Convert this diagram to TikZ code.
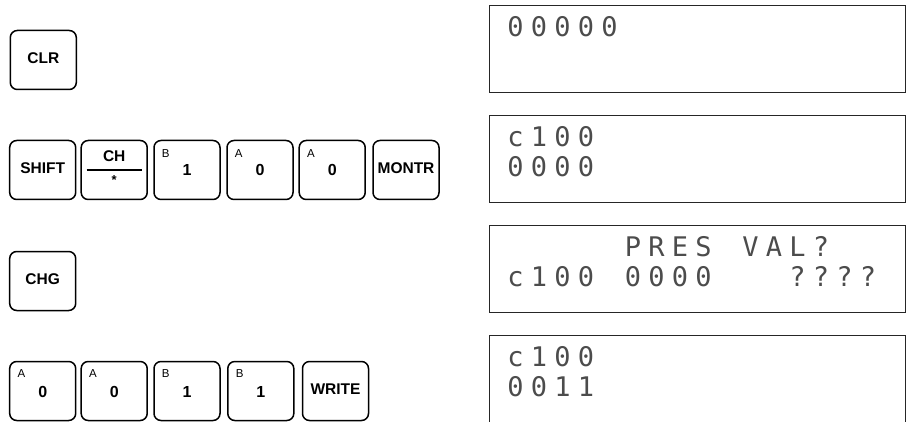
\documentclass[tikz,border=0pt]{standalone}
\usepackage{fontspec}
\setmainfont{Liberation Sans}
\newfontfamily\lcdfont{DejaVu Sans Mono}
\newlength\lcdpitch
\setlength\lcdpitch{23.5pt}
\ExplSyntaxOn
\NewDocumentCommand\lcdline{m}{
  \str_map_inline:nn {#1}
    { \str_if_eq:nnTF {##1} {_} { \hspace*{\lcdpitch} } { \makebox[\lcdpitch][c]{##1} } }
}
\ExplSyntaxOff
\tikzset{
  keybox/.style={draw, line width=1.5pt, rounded corners=7pt, minimum width=66pt, minimum height=59pt, inner sep=0pt},
  keytxt/.style={font=\bfseries\fontsize{15.5}{15.5}\selectfont, anchor=base, inner sep=0pt},
  keydig/.style={font=\bfseries\fontsize{16}{16}\selectfont, anchor=base, inner sep=0pt},
  keysub/.style={font=\fontsize{11.5}{11.5}\selectfont, anchor=base west, inner sep=0pt},
  lcdbox/.style={draw, line width=1pt, black!85, minimum width=416pt, minimum height=87pt, anchor=north west, inner sep=0pt},
  lcdtxt/.style={font=\lcdfont\fontsize{27}{27}\selectfont, text=black!70, anchor=base west, inner sep=0pt}
}
\begin{document}
\begin{tikzpicture}[x=1pt,y=-1pt]
\useasboundingbox (0,0) rectangle (907,422);

% ---------- row 1 ----------
\node[keybox] (clr) at (43.3,60) {};
\node[keytxt] (clrt) at ([yshift=-3.5pt]clr.center) {CLR};

% ---------- row 2 ----------
\node[keybox] (shift) at (42.7,170) {};
\node[keytxt] (shiftt) at ([yshift=-3.5pt]shift.center) {SHIFT};
\node[keybox] (ch) at (114.2,170) {};
\node[keytxt] (cht) at ([yshift=8.3pt]ch.center) {CH};
\coordinate (chl) at ([xshift=-27.5pt]ch.center);
\coordinate (chr) at ([xshift=27.5pt]ch.center);
\draw[line width=1.8pt] (chl) -- (chr);
\node[font=\bfseries\fontsize{13}{13}\selectfont, anchor=north, inner sep=0pt] (chs) at ([yshift=-5pt]ch.center) {*};
\node[keybox] (b1a) at (187,170) {};
\node[keysub] (b1al) at ([xshift=8.5pt,yshift=-17.5pt]b1a.north west) {B};
\node[keydig] (b1ad) at ([yshift=-6pt]b1a.center) {1};
\node[keybox] (a0a) at (260,170) {};
\node[keysub] (a0al) at ([xshift=8.5pt,yshift=-17.5pt]a0a.north west) {A};
\node[keydig] (a0ad) at ([yshift=-6pt]a0a.center) {0};
\node[keybox] (a0b) at (332.2,170) {};
\node[keysub] (a0bl) at ([xshift=8.5pt,yshift=-17.5pt]a0b.north west) {A};
\node[keydig] (a0bd) at ([yshift=-6pt]a0b.center) {0};
\node[keybox] (montr) at (406,170) {};
\node[keytxt] (montrt) at ([yshift=-3.5pt]montr.center) {MONTR};

% ---------- row 3 ----------
\node[keybox] (chg) at (42.7,281) {};
\node[keytxt] (chgt) at ([yshift=-3.5pt]chg.center) {CHG};

% ---------- row 4 ----------
\node[keybox] (a0c) at (42.7,391) {};
\node[keysub] (a0cl) at ([xshift=8.5pt,yshift=-17pt]a0c.north west) {A};
\node[keydig] (a0cd) at ([yshift=-6pt]a0c.center) {0};
\node[keybox] (a0d) at (114.2,391) {};
\node[keysub] (a0dl) at ([xshift=8.5pt,yshift=-17pt]a0d.north west) {A};
\node[keydig] (a0dd) at ([yshift=-6pt]a0d.center) {0};
\node[keybox] (b1b) at (187,391) {};
\node[keysub] (b1bl) at ([xshift=8.5pt,yshift=-17pt]b1b.north west) {B};
\node[keydig] (b1bd) at ([yshift=-6pt]b1b.center) {1};
\node[keybox] (b1c) at (260.8,391) {};
\node[keysub] (b1cl) at ([xshift=8.5pt,yshift=-17pt]b1c.north west) {B};
\node[keydig] (b1cd) at ([yshift=-6pt]b1c.center) {1};
\node[keybox] (write) at (335.5,391) {};
\node[keytxt] (writet) at ([yshift=-3pt]write.center) {WRITE};

% ---------- LCD displays ----------
\node[lcdbox] (lcd1) at (489,5) {};
\node[lcdtxt] (lcd1a) at ([xshift=14.5pt,yshift=-32pt]lcd1.north west) {\lcdline{00000}};

\node[lcdbox] (lcd2) at (489,115) {};
\node[lcdtxt] (lcd2a) at ([xshift=14.5pt,yshift=-31.5pt]lcd2.north west) {\lcdline{c100}};
\node[lcdtxt] (lcd2b) at ([xshift=14.5pt,yshift=-61.5pt]lcd2.north west) {\lcdline{0000}};

\node[lcdbox] (lcd3) at (489,225) {};
\node[lcdtxt] (lcd3a) at ([xshift=14.5pt,yshift=-31.5pt]lcd3.north west) {\lcdline{_____PRES_VAL?}};
\node[lcdtxt] (lcd3b) at ([xshift=14.5pt,yshift=-61.5pt]lcd3.north west) {\lcdline{c100_0000___????}};

\coordinate (lcd4tl) at (489,335);
\coordinate (lcd4tr) at (905,335);
\coordinate (lcd4bl) at (489,422);
\coordinate (lcd4br) at (905,422);
\draw[line width=1pt, black!85] (lcd4bl) -- (lcd4tl) -- (lcd4tr) -- (lcd4br);
\node[lcdtxt] (lcd4a) at ([xshift=14.5pt,yshift=-31.5pt]lcd4tl) {\lcdline{c100}};
\node[lcdtxt] (lcd4b) at ([xshift=14.5pt,yshift=-61.5pt]lcd4tl) {\lcdline{0011}};
\end{tikzpicture}
\end{document}
